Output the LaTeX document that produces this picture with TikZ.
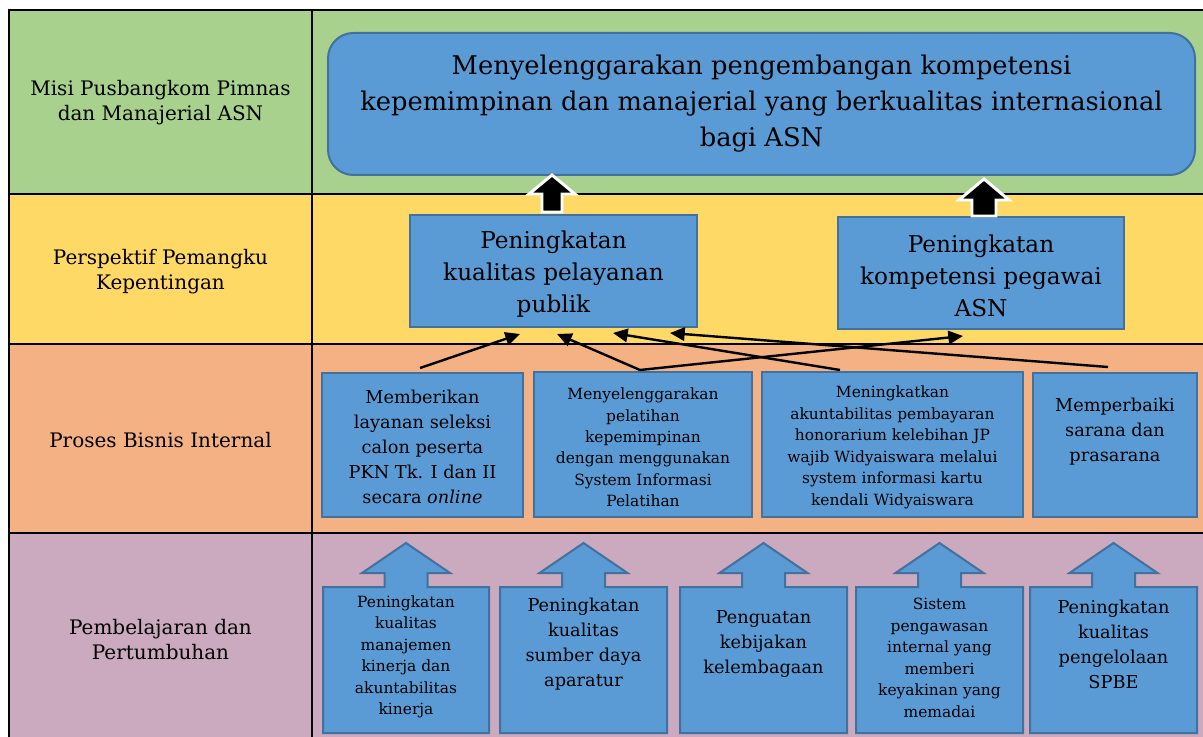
\documentclass[tikz,border=0pt]{standalone}
\usepackage{fontspec}
\setmainfont{DejaVu Serif}
\usetikzlibrary{fit,arrows.meta,calc}
\definecolor{rowgreen}{RGB}{169,209,142}
\definecolor{rowyellow}{RGB}{255,217,102}
\definecolor{roworange}{RGB}{244,177,131}
\definecolor{rowpurple}{RGB}{203,169,190}
\definecolor{boxblue}{RGB}{91,155,213}
\definecolor{boxedge}{RGB}{65,113,156}
\tikzset{
  box/.style={draw=boxedge, fill=boxblue, line width=1.5pt, inner sep=0pt},
  txt/.style={align=center, inner sep=0pt, text=black},
  lbl/.style={txt, font=\fontsize{15}{18.75}\selectfont},
  midtxt/.style={txt, font=\fontsize{13.3}{18.75}\selectfont},
  smalltxt/.style={txt, font=\fontsize{11.6}{16.1}\selectfont},
  yeltxt/.style={txt, font=\fontsize{17.4}{24}\selectfont},
  toptxt/.style={txt, font=\fontsize{19.3}{27}\selectfont},
  conn/.style={-{Triangle[length=11pt,width=10pt]}, line width=1.8pt},
  blockarrow/.style={fill=black, draw=white, line width=2.2pt, line join=miter},
  grid/.style={line width=1.5pt, draw=black}
}
\begin{document}
\begin{tikzpicture}[x=0.75pt,y=-0.75pt]
\clip (0,0) rectangle (1203,737);
\fill[white] (0,0) rectangle (1203,737);
% row backgrounds
\fill[rowgreen]  (9,10)  rectangle (1203,194);
\fill[rowyellow] (9,194) rectangle (1203,344);
\fill[roworange] (9,344) rectangle (1203,533);
\fill[rowpurple] (9,533) rectangle (1203,740);
% grid lines
\draw[grid] (9,740) -- (9,10) -- (1210,10);
\draw[grid] (312,10) -- (312,740);
\draw[grid] (9,194) -- (1210,194);
\draw[grid] (9,344) -- (1210,344);
\draw[grid] (9,533) -- (1210,533);
% row labels
\node[lbl] (l1) at (160.5,102.5) {Misi Pusbangkom Pimnas\\dan Manajerial ASN};
\node[lbl] (l2) at (160.5,271.5) {Perspektif Pemangku\\Kepentingan};
\node[lbl] (l3) at (160.5,440) {Proses Bisnis Internal};
\node[lbl] (l4) at (160.5,639.5) {Pembelajaran dan\\Pertumbuhan};
% mission
\node[box, rounded corners=19pt, fit={(328,33) (1195,175)}] (mission) {};
\node[toptxt] (missiontxt) at (761.5,103.5) {Menyelenggarakan pengembangan kompetensi\\kepemimpinan dan manajerial yang berkualitas internasional\\bagi ASN};
% stakeholder boxes
\node[box, fit={(410,215) (697,327)}] (y1) {};
\node[yeltxt] (y1txt) at (553.5,274) {Peningkatan\\kualitas pelayanan\\publik};
\node[box, fit={(838,217) (1124,329)}] (y2) {};
\node[yeltxt] (y2txt) at (981,275.5) {Peningkatan\\kompetensi pegawai\\ASN};
% block arrows
\draw[blockarrow] ($(y1.north)+(-11.5,-2)$) -- ++(0,-18) -- ++(-13,0) -- ++(23,-19) -- ++(23,19) -- ++(-13,0) -- ++(0,18) -- cycle;
\draw[blockarrow] ($(y2.north)+(-9,0)$) -- ++(0,-16) -- ++(-13,0) -- ++(25,-21) -- ++(25,21) -- ++(-13,0) -- ++(0,16) -- cycle;
% internal process boxes
\node[box, fit={(322,373) (523,517)}] (A) {};
\node[midtxt] (Atxt) at (422.5,446.5) {Memberikan\\layanan seleksi\\calon peserta\\PKN Tk. I dan II\\secara \textit{online}};
\node[box, fit={(534,372) (752,517)}] (B) {};
\node[smalltxt] (Btxt) at (643,447.5) {Menyelenggarakan\\pelatihan\\kepemimpinan\\dengan menggunakan\\System Informasi\\Pelatihan};
\node[box, fit={(762,372) (1023,517)}] (C) {};
\node[smalltxt] (Ctxt) at (892.5,447.5) {Meningkatkan\\akuntabilitas pembayaran\\honorarium kelebihan JP\\wajib Widyaiswara melalui\\system informasi kartu\\kendali Widyaiswara};
\node[box, fit={(1033,373) (1197,517)}] (D) {};
\node[midtxt] (Dtxt) at (1115,432) {Memperbaiki\\sarana dan\\prasarana};
% connectors
\draw[conn] ($(A.north)+(-2.5,-4)$) -- ($(y1.south)+(-33.5,6)$);
\draw[conn] ($(B.north)+(-3,-1)$) -- ($(y1.south)+(3.5,6)$);
\draw[conn] ($(B.north)+(-3,-1)$) -- ($(y2.south)+(-18,6)$);
\draw[conn] ($(C.north)+(-52.5,-1)$) -- ($(y1.south)+(59.5,5)$);
\draw[conn] ($(D.north)+(-7,-5)$) -- ($(y1.south)+(116.5,5)$);
% learning & growth arrow boxes
\foreach \l/\r in {323/489, 500/667, 680/847, 856/1023, 1030/1197} {
  \pgfmathsetmacro\c{(\l+\r)/2}
  \draw[box] (\l,587) -- (\l,733) -- (\r,733) -- (\r,587) -- (\c+21.5,587) -- (\c+21.5,573) -- (\c+44,573) -- (\c,543) -- (\c-44,573) -- (\c-21.5,573) -- (\c-21.5,587) -- cycle;
}
\node[smalltxt] (p1) at (406,657) {Peningkatan\\kualitas\\manajemen\\kinerja dan\\akuntabilitas\\kinerja};
\node[midtxt] (p2) at (583.5,644.5) {Peningkatan\\kualitas\\sumber daya\\aparatur};
\node[midtxt] (p3) at (763.5,644.5) {Penguatan\\kebijakan\\kelembagaan};
\node[smalltxt] (p4) at (939.5,658) {Sistem\\pengawasan\\internal yang\\memberi\\keyakinan yang\\memadai};
\node[midtxt] (p5) at (1113.5,644.5) {Peningkatan\\kualitas\\pengelolaan\\SPBE};
\end{tikzpicture}
\end{document}
